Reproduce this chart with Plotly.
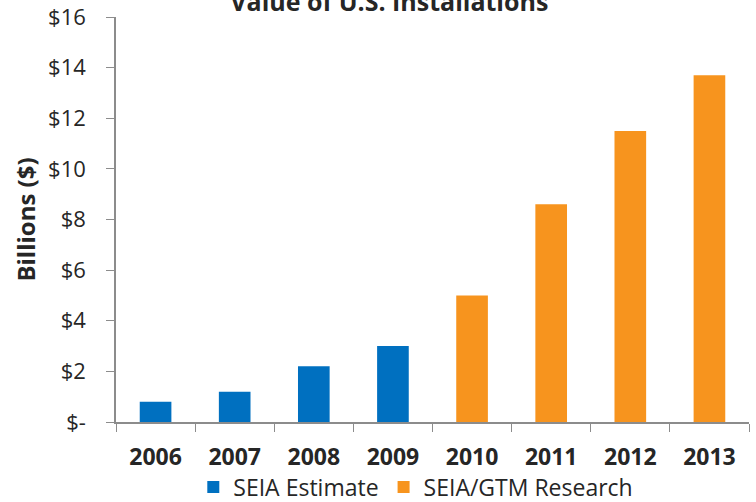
import plotly.graph_objects as go

years = ["2006", "2007", "2008", "2009", "2010", "2011", "2012", "2013"]
seia_years = ["2006", "2007", "2008", "2009"]
seia_vals = [0.8, 1.2, 2.2, 3.0]
gtm_years = ["2010", "2011", "2012", "2013"]
gtm_vals = [5.0, 8.6, 11.5, 13.7]
ytick_vals = [0, 2, 4, 6, 8, 10, 12, 14, 16]
ytick_text = ["$-", "$2", "$4", "$6", "$8", "$10", "$12", "$14", "$16"]

FONT = "Open Sans"
TXT = "#262626"
AX = "#8c8c8c"

fig = go.Figure()
fig.add_trace(go.Bar(x=seia_years, y=seia_vals, name="SEIA Estimate",
                     marker=dict(color="#0070C0", line=dict(width=0))))
fig.add_trace(go.Bar(x=gtm_years, y=gtm_vals, name="SEIA/GTM Research",
                     marker=dict(color="#F7941E", line=dict(width=0))))

fig.update_layout(
    width=756, height=502,
    margin=dict(l=116, r=7, t=17, b=80, autoexpand=False),
    paper_bgcolor="white", plot_bgcolor="white",
    barmode="overlay", bargap=0.6,
    font=dict(family=FONT, color=TXT, size=22),
    title=dict(text="<b>Value of U.S. Installations</b>", x=0.515, xanchor="center",
               y=0.995, yanchor="middle", font=dict(size=25, color=TXT, family=FONT)),
    showlegend=True,
    legend=dict(orientation="h", xref="container", yref="container",
                x=0.55, xanchor="center", y=0.03, yanchor="middle",
                font=dict(size=23, color=TXT, family=FONT), itemwidth=30,
                traceorder="normal"),
    xaxis=dict(type="category", categoryorder="array", categoryarray=years,
               showline=True, linecolor=AX, linewidth=1.5,
               ticks="outside", tickson="boundaries", ticklen=8, tickcolor=AX,
               tickfont=dict(size=23, family=FONT, color=TXT),
               tickprefix="<b>", ticksuffix="</b>",
               ticklabelstandoff=14, showgrid=False),
    yaxis=dict(range=[0, 16], tickvals=ytick_vals, ticktext=ytick_text,
               showline=True, linecolor=AX, linewidth=1.5,
               ticks="outside", ticklen=8, tickcolor=AX,
               tickfont=dict(size=22, family=FONT, color=TXT),
               ticklabelstandoff=16, showgrid=False, zeroline=False,
               title=dict(text="<b>Billions ($)</b>", font=dict(size=24, family=FONT, color=TXT),
                          standoff=6)),
)

fig.write_html("out.html")
